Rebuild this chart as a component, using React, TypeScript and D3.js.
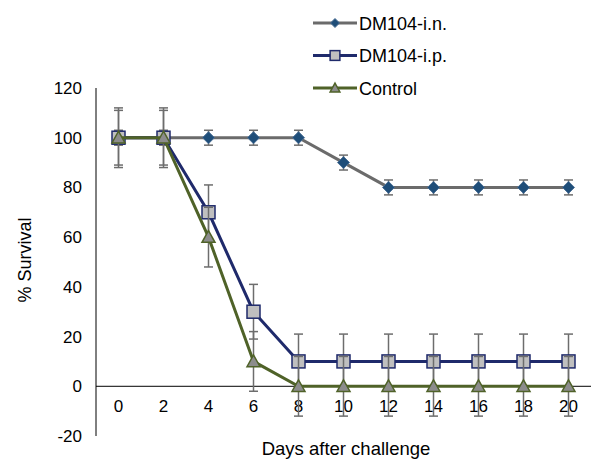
import React from 'react';
import * as d3 from 'd3';

const days = ['0', '2', '4', '6', '8', '10', '12', '14', '16', '18', '20'];
const inValues = [100, 100, 100, 100, 100, 90, 80, 80, 80, 80, 80];
const inErrors = [3, 3, 3, 3, 3, 3, 3, 3, 3, 3, 3];
const ipValues = [100, 100, 70, 30, 10, 10, 10, 10, 10, 10, 10];
const ipErrors = [11, 11, 11, 11, 11, 11, 11, 11, 11, 11, 11];
const ctrlValues = [100, 100, 60, 10, 0, 0, 0, 0, 0, 0, 0];
const ctrlErrors = [12, 12, 12, 12, 12, 12, 12, 12, 12, 12, 12];
const yTicks = [-20, 0, 20, 40, 60, 80, 100, 120];

const FONT = '"Liberation Sans", Arial, sans-serif';
const W = 591, H = 459;

const series = [
    { name: 'DM104-i.n.', values: inValues, errors: inErrors, line: '#6b6b6b', marker: 'diamond', fill: '#1f4e79', stroke: '#1f4e79' },
    { name: 'DM104-i.p.', values: ipValues, errors: ipErrors, line: '#1f2a6b', marker: 'square', fill: '#bfbfbf', stroke: '#1f2a6b' },
    { name: 'Control', values: ctrlValues, errors: ctrlErrors, line: '#4f6228', marker: 'triangle', fill: '#8c8c8c', stroke: '#4f6228' },
];

function Marker({ type, x, y, fill, stroke, small }: any) {
    const k = small ? 0.75 : 1;
    if (type === 'diamond') {
        const s = 6 * k;
        return <path d={`M${x},${y - s}L${x + s},${y}L${x},${y + s}L${x - s},${y}Z`} fill={fill} stroke="#4a6f96" strokeWidth={1} />;
    }
    if (type === 'square') {
        const s = 6.5 * k;
        return <rect x={x - s} y={y - s} width={2 * s} height={2 * s} fill={fill} stroke={stroke} strokeWidth={1.5} />;
    }
    const s = 6.5 * k;
    return <path d={`M${x},${y - s}L${x + s},${y + s * 0.8}L${x - s},${y + s * 0.8}Z`} fill={fill} stroke={stroke} strokeWidth={1.5} />;
}

export default function App() {
    const x = d3.scaleBand().domain(days).range([96, 591]).padding(0);
    const y = d3.scaleLinear().domain([-20, 120]).range([436, 88]);
    const cx = (d: string) => (x(d) as number) + x.bandwidth() / 2;
    const line = d3.line<number>().x((_, i) => cx(days[i])).y(v => y(v));

    return (
        <svg width={W} height={H} style={{ position: 'absolute', left: 0, top: 0, background: '#fff' }} fontFamily={FONT}>
            {/* axes */}
            <line x1={96} x2={96} y1={y(120)} y2={y(-20)} stroke="#000" strokeWidth={1} />
            <line x1={96} x2={W} y1={y(0)} y2={y(0)} stroke="#000" strokeWidth={1} />
            {yTicks.map(t => (
                <text key={t} x={82} y={y(t) + 6} textAnchor="end" fontSize={17} fill="#000">{t}</text>
            ))}
            {days.map(d => (
                <text key={d} x={cx(d)} y={412} textAnchor="middle" fontSize={17} fill="#000">{d}</text>
            ))}
            <text x={346} y={455} textAnchor="middle" fontSize={18.5} fill="#000">Days after challenge</text>
            <text transform="translate(31,260) rotate(-90)" textAnchor="middle" fontSize={18} fill="#000">% Survival</text>

            {/* series */}
            {series.map(s => (
                <g key={s.name}>
                    {s.values.map((v, i) => {
                        const px = cx(days[i]);
                        const top = y(v + s.errors[i]);
                        const bot = y(v - s.errors[i]);
                        return (
                            <g key={i} stroke="#6d6d6d" strokeWidth={1.5}>
                                <line x1={px} x2={px} y1={top} y2={bot} />
                                <line x1={px - 4.5} x2={px + 4.5} y1={top} y2={top} />
                                <line x1={px - 4.5} x2={px + 4.5} y1={bot} y2={bot} />
                            </g>
                        );
                    })}
                    <path d={line(s.values) || ''} fill="none" stroke={s.line} strokeWidth={3} />
                    {s.values.map((v, i) => (
                        <Marker key={i} type={s.marker} x={cx(days[i])} y={y(v)} fill={s.fill} stroke={s.stroke} />
                    ))}
                </g>
            ))}

            {/* legend */}
            {series.map((s, i) => {
                const ly = 23 + i * 32.5;
                return (
                    <g key={s.name}>
                        <line x1={313} x2={357} y1={ly} y2={ly} stroke={s.line} strokeWidth={3} />
                        <Marker type={s.marker} x={335} y={ly} fill={s.fill} stroke={s.stroke} small />
                        <text x={359} y={ly + 6.5} fontSize={18} fill="#000">{s.name}</text>
                    </g>
                );
            })}
        </svg>
    );
}
